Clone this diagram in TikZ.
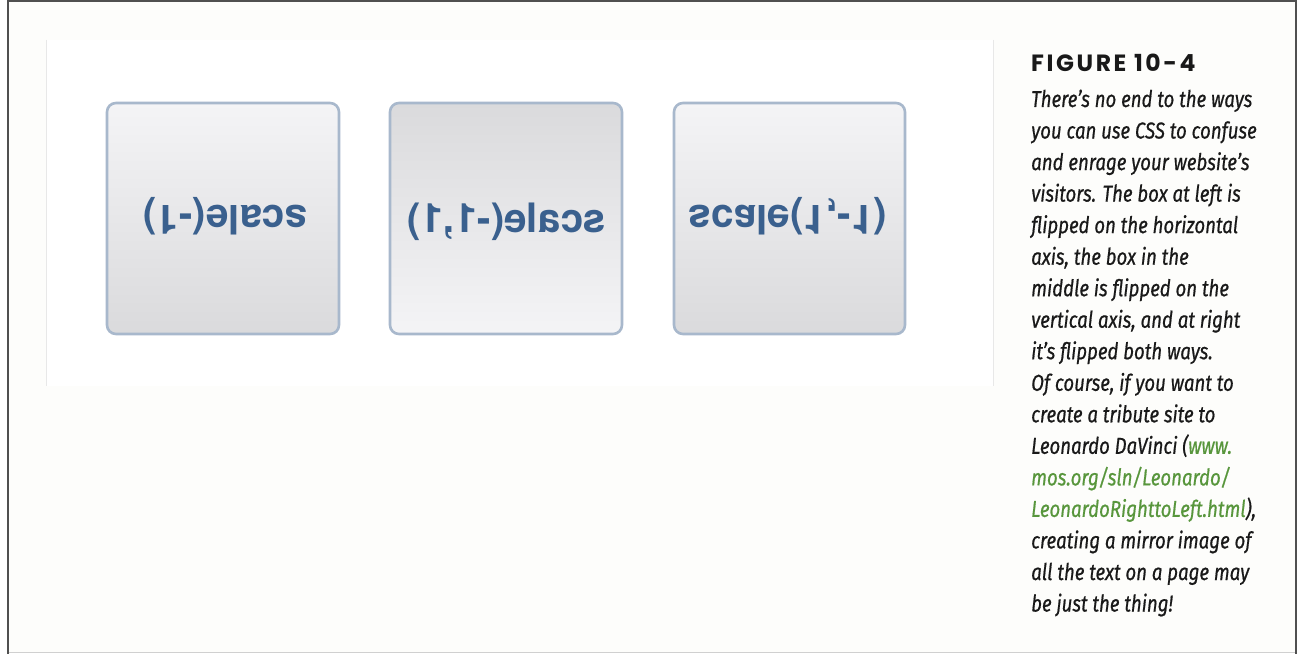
\documentclass[tikz,border=0pt]{standalone}
\usepackage{fontspec}
\usepackage{graphicx}
\setmainfont{Liberation Sans}
\newfontfamily\boxfont{TeX Gyre Heros}
\newfontfamily\figfont[LetterSpace=11]{Poppins}
\newfontfamily\capfont[FakeStretch=0.81,FakeBold=0.6]{Fira Sans}
\definecolor{cream}{RGB}{253,253,251}
\definecolor{framedark}{RGB}{80,80,80}
\definecolor{framelight}{RGB}{208,208,208}
\definecolor{rulegrey}{RGB}{232,232,232}
\definecolor{boxborder}{RGB}{168,184,204}
\definecolor{boxlight}{RGB}{244,244,246}
\definecolor{boxdark}{RGB}{218,218,220}
\definecolor{flipblue}{RGB}{58,96,142}
\definecolor{linkgreen}{RGB}{88,150,60}
\definecolor{captext}{RGB}{25,25,25}
\tikzset{
  flipbox/.style={draw=boxborder, line width=2.6bp, rounded corners=9bp},
  fliptext/.style={inner sep=0pt, text=flipblue, font=\boxfont\bfseries\fontsize{40.5bp}{44bp}\selectfont},
  capline/.style={anchor=base west, inner sep=0pt, text=captext, font=\capfont\itshape\fontsize{23bp}{28bp}\selectfont},
  figtitle/.style={anchor=base west, inner sep=0pt, text=captext, font=\figfont\bfseries\fontsize{23.5bp}{28bp}\selectfont}
}
\begin{document}
\begin{tikzpicture}[x=1bp,y=-1bp]
\useasboundingbox (0,0) rectangle (1302,654);
\fill[white] (0,0) rectangle (1302,654);
\fill[cream] (8,1) rectangle (1296,653);
\fill[white] (46,40) rectangle (993,386);
% frame
\draw[framelight, line width=1.2bp] (8,652.6) -- (1296,652.6);
\draw[framedark, line width=1.6bp] (8,0.8) -- (1296,0.8);
\draw[framedark, line width=2.2bp] (8,0) -- (8,654);
\draw[framedark, line width=2.2bp] (1296,0) -- (1296,654);
% screenshot rules
\draw[rulegrey, line width=1bp] (46,40) -- (46,386);
\draw[rulegrey, line width=1bp] (993,40) -- (993,386);
% boxes
\shade[top color=boxlight, bottom color=boxdark, rounded corners=9bp] (107,103) rectangle (339,334);
\draw[flipbox] (107,103) rectangle (339,334);
\shade[top color=boxdark, bottom color=boxlight, rounded corners=9bp] (390,103) rectangle (622,334);
\draw[flipbox] (390,103) rectangle (622,334);
\shade[top color=boxlight, bottom color=boxdark, rounded corners=9bp] (674,103) rectangle (905,334);
\draw[flipbox] (674,103) rectangle (905,334);
\node[fliptext] (t1) at (225,216) {\rotatebox{180}{scale(-1)}};
\node[fliptext] (t2) at (506.5,222) {\reflectbox{scale(-1,1)}};
\node[fliptext] (t3) at (788,216) {\rotatebox{180}{\reflectbox{scale(1,-1)}}};
% caption
\node[figtitle] (fig) at (1031,72) {FIGURE 10-4};
\node[capline] (l1) at (1031,107.0) {There’s no end to the ways};
\node[capline] (l2) at (1031,138.5) {you can use CSS to confuse};
\node[capline] (l3) at (1031,170.1) {and enrage your website’s};
\node[capline] (l4) at (1031,201.6) {visitors. The box at left is};
\node[capline] (l5) at (1031,233.1) {flipped on the horizontal};
\node[capline] (l6) at (1031,264.7) {axis, the box in the};
\node[capline] (l7) at (1031,296.2) {middle is flipped on the};
\node[capline] (l8) at (1031,327.7) {vertical axis, and at right};
\node[capline] (l9) at (1031,359.2) {it’s flipped both ways.};
\node[capline] (l10) at (1031,390.8) {Of course, if you want to};
\node[capline] (l11) at (1031,422.3) {create a tribute site to};
\node[capline] (l12) at (1031,453.8) {Leonardo DaVinci (\textcolor{linkgreen}{www.}};
\node[capline] (l13) at (1031,485.4) {\textcolor{linkgreen}{mos.org/sln/Leonardo/}};
\node[capline] (l14) at (1031,516.9) {\textcolor{linkgreen}{LeonardoRighttoLeft.html}),};
\node[capline] (l15) at (1031,548.4) {creating a mirror image of};
\node[capline] (l16) at (1031,580.0) {all the text on a page may};
\node[capline] (l17) at (1031,611.5) {be just the thing!};
\end{tikzpicture}
\end{document}
